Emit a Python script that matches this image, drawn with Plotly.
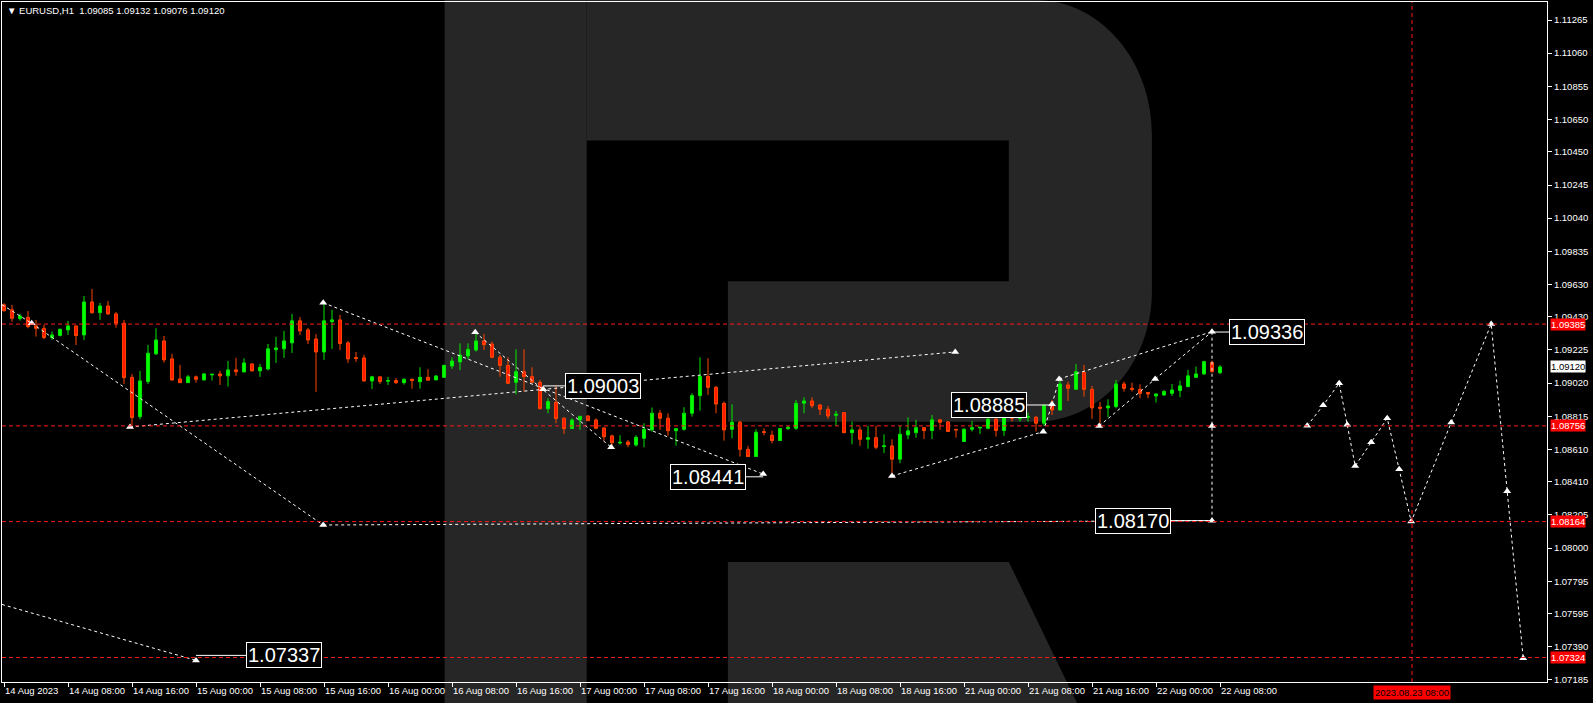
import plotly.graph_objects as go

# ---------------- data ----------------
header_text = "EURUSD,H1\u00a0\u00a01.09085 1.09132 1.09076 1.09120"

bar_open = [1.09504, 1.09473, 1.09419, 1.09427, 1.09374, 1.09359, 1.09302, 1.09314, 1.09349, 1.09374,
            1.09318, 1.09522, 1.09456, 1.09497, 1.09448, 1.09390, 1.09056, 1.08813, 1.09030, 1.09201,
            1.09281, 1.09170, 1.09046, 1.09023, 1.09059, 1.09040, 1.09071, 1.09077, 1.09065, 1.09102,
            1.09089, 1.09139, 1.09096, 1.09108, 1.09227, 1.09232, 1.09269, 1.09405, 1.09349, 1.09293,
            1.09213, 1.09400, 1.09411, 1.09269, 1.09178, 1.09176, 1.09034, 1.09059, 1.09032, 1.09036,
            1.09023, 1.09044, 1.09029, 1.09056, 1.09040, 1.09056, 1.09126, 1.09151, 1.09188, 1.09225,
            1.09281, 1.09262, 1.09180, 1.09130, 1.09025, 1.09091, 1.09060, 1.09025, 1.08862, 1.08902,
            1.08803, 1.08739, 1.08792, 1.08817, 1.08792, 1.08743, 1.08694, 1.08650, 1.08656, 1.08638,
            1.08679, 1.08731, 1.08834, 1.08803, 1.08726, 1.08735, 1.08834, 1.08943, 1.09062, 1.08994,
            1.08895, 1.08735, 1.08778, 1.08611, 1.08566, 1.08720, 1.08698, 1.08665, 1.08739, 1.08741,
            1.08896, 1.08910, 1.08885, 1.08859, 1.08821, 1.08838, 1.08714, 1.08731, 1.08673, 1.08683,
            1.08628, 1.08632, 1.08550, 1.08700, 1.08714, 1.08745, 1.08727, 1.08793, 1.08780, 1.08735,
            1.08659, 1.08735, 1.08743, 1.08741, 1.08797, 1.08727, 1.08817, 1.08801, 1.08809, 1.08809,
            1.08772, 1.08885, 1.08854, 1.09009, 1.08982, 1.09087, 1.08982, 1.08871, 1.08867, 1.08875,
            1.09015, 1.08988, 1.08982, 1.08962, 1.08941, 1.08947, 1.08957, 1.08974, 1.08999, 1.09056,
            1.09077, 1.09147, 1.09085]
bar_high = [1.09514, 1.09504, 1.09448, 1.09466, 1.09411, 1.09380, 1.09339, 1.09357, 1.09405, 1.09374,
            1.09559, 1.09602, 1.09516, 1.09528, 1.09460, 1.09411, 1.09077, 1.09096, 1.09256, 1.09359,
            1.09312, 1.09201, 1.09133, 1.09071, 1.09067, 1.09083, 1.09075, 1.09096, 1.09157, 1.09176,
            1.09174, 1.09141, 1.09139, 1.09262, 1.09306, 1.09343, 1.09448, 1.09429, 1.09361, 1.09324,
            1.09522, 1.09473, 1.09442, 1.09281, 1.09213, 1.09195, 1.09065, 1.09059, 1.09059, 1.09052,
            1.09048, 1.09048, 1.09118, 1.09106, 1.09070, 1.09134, 1.09180, 1.09266, 1.09266, 1.09338,
            1.09324, 1.09277, 1.09194, 1.09180, 1.09229, 1.09229, 1.09118, 1.09040, 1.08926, 1.09007,
            1.08809, 1.08803, 1.08815, 1.08823, 1.08803, 1.08747, 1.08702, 1.08698, 1.08669, 1.08698,
            1.08772, 1.08869, 1.08854, 1.08834, 1.08743, 1.08871, 1.08957, 1.09180, 1.09174, 1.09003,
            1.08906, 1.08889, 1.08788, 1.08632, 1.08735, 1.08741, 1.08727, 1.08743, 1.08755, 1.08916,
            1.08933, 1.08933, 1.08891, 1.08879, 1.08848, 1.08838, 1.08782, 1.08751, 1.08756, 1.08756,
            1.08704, 1.08673, 1.08756, 1.08809, 1.08793, 1.08747, 1.08823, 1.08799, 1.08786, 1.08735,
            1.08741, 1.08786, 1.08747, 1.08823, 1.08813, 1.08823, 1.08830, 1.08830, 1.08838, 1.08817,
            1.08885, 1.08916, 1.09050, 1.09030, 1.09139, 1.09133, 1.09003, 1.08904, 1.08920, 1.09040,
            1.09030, 1.09023, 1.09013, 1.08962, 1.08957, 1.08978, 1.09015, 1.09036, 1.09102, 1.09122,
            1.09159, 1.09159, 1.09132]
bar_low = [1.09462, 1.09400, 1.09407, 1.09359, 1.09308, 1.09291, 1.09287, 1.09310, 1.09318, 1.09256,
           1.09287, 1.09448, 1.09411, 1.09442, 1.09363, 1.09015, 1.08752, 1.08797, 1.09015, 1.09194,
           1.09147, 1.09034, 1.09023, 1.09023, 1.09023, 1.09036, 1.09036, 1.09009, 1.08999, 1.09065,
           1.09089, 1.09091, 1.09059, 1.09098, 1.09145, 1.09176, 1.09207, 1.09318, 1.09262, 1.08966,
           1.09164, 1.09232, 1.09225, 1.09145, 1.09151, 1.09028, 1.08984, 1.09015, 1.09009, 1.09015,
           1.09011, 1.08986, 1.08986, 1.09038, 1.09040, 1.09052, 1.09108, 1.09101, 1.09167, 1.09215,
           1.09225, 1.09174, 1.09060, 1.09015, 1.08951, 1.08968, 1.09019, 1.08858, 1.08834, 1.08772,
           1.08706, 1.08739, 1.08731, 1.08788, 1.08735, 1.08665, 1.08628, 1.08640, 1.08624, 1.08628,
           1.08624, 1.08720, 1.08731, 1.08694, 1.08634, 1.08726, 1.08813, 1.08850, 1.08947, 1.08834,
           1.08665, 1.08679, 1.08566, 1.08566, 1.08566, 1.08698, 1.08648, 1.08665, 1.08731, 1.08731,
           1.08834, 1.08865, 1.08823, 1.08799, 1.08756, 1.08710, 1.08642, 1.08632, 1.08615, 1.08611,
           1.08587, 1.08463, 1.08525, 1.08673, 1.08683, 1.08675, 1.08675, 1.08731, 1.08718, 1.08683,
           1.08659, 1.08721, 1.08706, 1.08735, 1.08690, 1.08694, 1.08782, 1.08782, 1.08782, 1.08721,
           1.08756, 1.08823, 1.08850, 1.08910, 1.08978, 1.08937, 1.08799, 1.08762, 1.08809, 1.08865,
           1.08968, 1.08968, 1.08927, 1.08927, 1.08900, 1.08941, 1.08941, 1.08933, 1.08994, 1.09056,
           1.09071, 1.09085, 1.09076]
bar_close = [1.09468, 1.09421, 1.09435, 1.09370, 1.09359, 1.09302, 1.09318, 1.09353, 1.09374, 1.09314,
             1.09522, 1.09456, 1.09497, 1.09448, 1.09390, 1.09054, 1.08807, 1.09034, 1.09205, 1.09287,
             1.09164, 1.09040, 1.09023, 1.09059, 1.09044, 1.09077, 1.09075, 1.09065, 1.09102, 1.09091,
             1.09145, 1.09096, 1.09118, 1.09232, 1.09238, 1.09281, 1.09405, 1.09343, 1.09287, 1.09213,
             1.09405, 1.09411, 1.09265, 1.09170, 1.09172, 1.09034, 1.09059, 1.09030, 1.09036, 1.09023,
             1.09044, 1.09036, 1.09056, 1.09038, 1.09064, 1.09130, 1.09157, 1.09194, 1.09229, 1.09281,
             1.09258, 1.09180, 1.09130, 1.09019, 1.09091, 1.09060, 1.09025, 1.08862, 1.08906, 1.08801,
             1.08739, 1.08792, 1.08815, 1.08788, 1.08741, 1.08689, 1.08652, 1.08654, 1.08640, 1.08685,
             1.08735, 1.08834, 1.08803, 1.08726, 1.08739, 1.08834, 1.08943, 1.09062, 1.08994, 1.08891,
             1.08731, 1.08778, 1.08611, 1.08566, 1.08716, 1.08716, 1.08665, 1.08739, 1.08747, 1.08895,
             1.08910, 1.08881, 1.08859, 1.08817, 1.08828, 1.08714, 1.08731, 1.08673, 1.08683, 1.08624,
             1.08632, 1.08550, 1.08704, 1.08725, 1.08745, 1.08727, 1.08793, 1.08778, 1.08721, 1.08731,
             1.08735, 1.08745, 1.08747, 1.08797, 1.08727, 1.08809, 1.08803, 1.08817, 1.08813, 1.08772,
             1.08883, 1.08854, 1.09015, 1.08988, 1.09091, 1.08982, 1.08867, 1.08865, 1.08879, 1.09015,
             1.08988, 1.08982, 1.08957, 1.08953, 1.08953, 1.08968, 1.08978, 1.09003, 1.09065, 1.09077,
             1.09153, 1.09091, 1.09120]
bar_index = list(range(len(bar_open)))

x_tick_index = [0, 8, 16, 24, 32, 40, 48, 56, 64, 72, 80, 88, 96, 104, 112, 120, 128, 136, 144, 152]
x_tick_labels = ["14 Aug 2023", "14 Aug 08:00", "14 Aug 16:00", "15 Aug 00:00", "15 Aug 08:00",
                 "15 Aug 16:00", "16 Aug 00:00", "16 Aug 08:00", "16 Aug 16:00", "17 Aug 00:00",
                 "17 Aug 08:00", "17 Aug 16:00", "18 Aug 00:00", "18 Aug 08:00", "18 Aug 16:00",
                 "21 Aug 00:00", "21 Aug 08:00", "21 Aug 16:00", "22 Aug 00:00", "22 Aug 08:00"]
price_ticks = [1.11265, 1.11060, 1.10855, 1.10650, 1.10450, 1.10245, 1.10040, 1.09835, 1.09630,
               1.09430, 1.09225, 1.09020, 1.08815, 1.08610, 1.08410, 1.08205, 1.08000, 1.07795,
               1.07595, 1.07390, 1.07185]

level_prices = [1.09385, 1.08756, 1.08164, 1.07324]
current_price = 1.09120
marker_time_index = 176
marker_time_label = "2023.08.23 08:00"

# analysis drawings (bar index, price)
wave_segments = [
    (-0.25, 1.09505, 3.46, 1.09390),
    (3.46, 1.09390, 39.9, 1.08143),
    (39.9, 1.08143, 151.0, 1.08170),
    (15.75, 1.08749, 118.9, 1.09213),
    (39.9, 1.09517, 94.9, 1.08458),
    (58.9, 1.09334, 75.9, 1.08623),
    (111.0, 1.08446, 129.9, 1.08720),
    (129.9, 1.08720, 131.0, 1.08889),
    (131.0, 1.08889, 131.9, 1.09046),
    (131.9, 1.09046, 151.0, 1.09338),
    (136.9, 1.08755, 143.9, 1.09046),
    (143.9, 1.09046, 151.0, 1.09338),
    (151.0, 1.09338, 151.0, 1.08170),
    (-0.25, 1.07652, 24.0, 1.07306),
]
pivot_x = [3.46, 15.75, 39.9, 39.9, 58.9, 67.4, 75.9, 94.9, 118.9, 111.0, 129.9, 131.0, 131.9,
           136.9, 143.9, 151.0, 151.0, 151.0, 24.0]
pivot_y = [1.09390, 1.08749, 1.09517, 1.08143, 1.09334, 1.08982, 1.08623, 1.08458, 1.09213, 1.08446,
           1.08720, 1.08889, 1.09046, 1.08755, 1.09046, 1.09338, 1.08755, 1.08170, 1.07306]

forecast_x = [162.9, 164.9, 166.9, 167.9, 168.9, 170.9, 172.9, 174.4, 175.9, 180.9, 185.9, 187.9, 189.9]
forecast_y = [1.08756, 1.08883, 1.09019, 1.08763, 1.08508, 1.08654, 1.08803, 1.08487, 1.08164,
              1.08776, 1.09386, 1.08351, 1.07319]

# boxed price labels: value, centre bar index, connector (x0, x1)
label_values = [1.09336, 1.09003, 1.08441, 1.08885, 1.08170, 1.07337]
label_centres = [157.9, 74.9, 88.0, 123.1, 141.1, 35.0]
label_links = [(151.0, 153.3), (67.4, 70.4), (92.75, 94.9), (127.75, 131.0), (145.6, 151.0), (24.0, 30.4)]

# ---------------- layout helpers ----------------
W, H = 1593, 703
ML, MR, MT, MB = 2, 46, 2, 21
PW, PH = W - ML - MR, H - MT - MB
X_RANGE = [-0.25, 192.875]
Y_RANGE = [1.071725, 1.113763]


def px(x):
    return (x - ML) / PW


def py(y):
    return (H - MB - y) / PH


LOGO = "#262626"
TXT = "Liberation Sans, Arial, sans-serif"
BOXFONT = "Liberation Sans, Arial, sans-serif"

fig = go.Figure()

fig.add_trace(go.Candlestick(
    x=bar_index, open=bar_open, high=bar_high, low=bar_low, close=bar_close,
    increasing=dict(line=dict(color="#00e600", width=1), fillcolor="#00ff00"),
    decreasing=dict(line=dict(color="#ff4500", width=1), fillcolor="#ff1a00"),
    whiskerwidth=0, showlegend=False, hoverinfo="skip"))

sx, sy = [], []
for x0, y0, x1, y1 in wave_segments:
    sx += [x0, x1, None]
    sy += [y0, y1, None]
fig.add_trace(go.Scatter(x=sx, y=sy, mode="lines",
                         line=dict(color="white", width=1, dash="3px,3px"),
                         showlegend=False, hoverinfo="skip"))

fig.add_trace(go.Scatter(x=forecast_x, y=forecast_y, mode="lines",
                         line=dict(color="white", width=1, dash="3px,3px"),
                         showlegend=False, hoverinfo="skip"))

cx, cy = [], []
for (a, b), v in zip(label_links, label_values):
    cx += [a, b, None]
    cy += [v, v, None]
fig.add_trace(go.Scatter(x=cx, y=cy, mode="lines", line=dict(color="white", width=1),
                         showlegend=False, hoverinfo="skip"))

fig.add_trace(go.Scatter(x=pivot_x + forecast_x, y=pivot_y + forecast_y, mode="markers",
                         marker=dict(symbol="triangle-up", size=7, color="white"),
                         showlegend=False, hoverinfo="skip"))

shapes = []
# watermark "R"
shapes.append(dict(type="rect", xref="paper", yref="paper", x0=px(444.6), x1=px(586.7),
                   y0=py(0), y1=py(703), fillcolor=LOGO, line=dict(width=0), layer="below"))
k = 0.5523
pts_bowl = (f"M {px(586.7)},{py(0)} L {px(1035.8)},{py(0)} "
            f"C {px(1035.8 + k * 116)},{py(0)} {px(1151.9)},{py(134.5 - k * 134.5)} {px(1151.9)},{py(134.5)} "
            f"L {px(1151.9)},{py(291.5)} "
            f"C {px(1151.9)},{py(291.5 + k * 130.2)} {px(1035.8 + k * 116)},{py(421.7)} {px(1035.8)},{py(421.7)} "
            f"L {px(727.9)},{py(421.7)} L {px(727.9)},{py(281.2)} L {px(1008.8)},{py(281.2)} "
            f"L {px(1008.8)},{py(140.4)} L {px(586.7)},{py(140.4)} Z")
shapes.append(dict(type="path", xref="paper", yref="paper", path=pts_bowl,
                   fillcolor=LOGO, line=dict(width=0), layer="below"))
pts_leg = (f"M {px(727.9)},{py(561.9)} L {px(1008.8)},{py(561.9)} L {px(1077)},{py(703)} "
           f"L {px(727.9)},{py(703)} Z")
shapes.append(dict(type="path", xref="paper", yref="paper", path=pts_leg,
                   fillcolor=LOGO, line=dict(width=0), layer="below"))

for lv in level_prices:
    shapes.append(dict(type="line", xref="paper", yref="y", x0=0, x1=1, y0=lv, y1=lv,
                       line=dict(color="#ff1a1a", width=1, dash="4px,3px"), layer="above"))
shapes.append(dict(type="line", xref="x", yref="paper", x0=marker_time_index, x1=marker_time_index,
                   y0=0, y1=1, line=dict(color="#ff1a1a", width=1, dash="4px,3px"), layer="above"))

annotations = []
for v, c in zip(label_values, label_centres):
    annotations.append(dict(x=c, y=v, xref="x", yref="y", text=f"{v:.5f}", showarrow=False,
                            font=dict(family=BOXFONT, size=20, color="white"),
                            bgcolor="black", bordercolor="white", borderwidth=1, borderpad=1,
                            xanchor="center", yanchor="middle"))

for lv in level_prices:
    annotations.append(dict(x=px(1550), y=lv, xref="paper", yref="y", text=f"{lv:.5f}",
                            showarrow=False, font=dict(family=TXT, size=9.5, color="white"),
                            bgcolor="#ff0000", borderpad=0, xanchor="left", yanchor="middle"))
annotations.append(dict(x=px(1550), y=current_price, xref="paper", yref="y", text=f"{current_price:.5f}",
                        showarrow=False, font=dict(family=TXT, size=9.5, color="black"),
                        bgcolor="white", borderpad=0, xanchor="left", yanchor="middle"))
annotations.append(dict(x=marker_time_index, y=py(692), xref="x", yref="paper", text=marker_time_label,
                        showarrow=False, font=dict(family=TXT, size=9.5, color="black"),
                        bgcolor="#ff0000", borderpad=1, xanchor="center", yanchor="middle"))
annotations.append(dict(x=px(5), y=py(11), xref="paper", yref="paper",
                        text="\u25bc " + header_text, showarrow=False,
                        font=dict(family=TXT, size=9.5, color="white"),
                        xanchor="left", yanchor="middle"))

fig.update_layout(
    width=W, height=H, margin=dict(l=ML, r=MR, t=MT, b=MB, pad=0, autoexpand=False),
    paper_bgcolor="black", plot_bgcolor="black",
    shapes=shapes, annotations=annotations, hovermode=False, showlegend=False,
    boxgap=0.45,
    xaxis=dict(range=X_RANGE, showgrid=False, zeroline=False, rangeslider=dict(visible=False),
               tickvals=x_tick_index, ticktext=x_tick_labels, ticks="outside", ticklen=4,
               tickangle=0, automargin=False,
               tickcolor="white", tickfont=dict(family=TXT, size=9.5, color="white"),
               ticklabelposition="outside right", showline=True, linecolor="white",
               linewidth=1, mirror=True, fixedrange=True),
    yaxis=dict(range=Y_RANGE, side="right", showgrid=False, zeroline=False, automargin=False,
               tickvals=price_ticks, ticktext=[f"{p:.5f}" for p in price_ticks],
               ticks="outside", ticklen=4, tickcolor="white",
               tickfont=dict(family=TXT, size=9.5, color="white"),
               showline=True, linecolor="white", linewidth=1, mirror=True, fixedrange=True),
)

fig.write_html("out.html", config={"displayModeBar": False},
               post_script="document.body.style.margin='0';document.body.style.background='black';"
                           "document.body.style.overflow='hidden';")
